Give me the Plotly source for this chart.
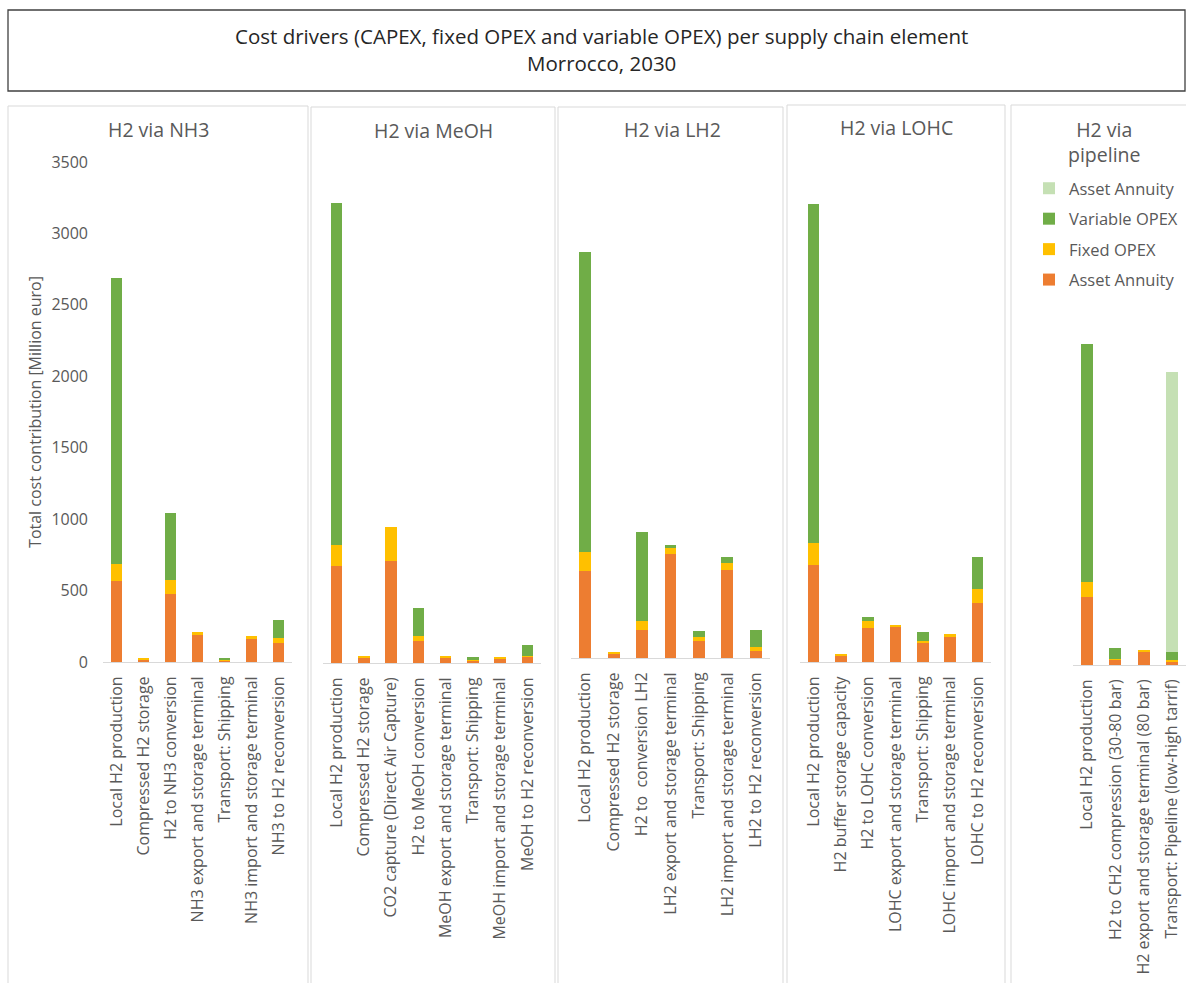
import plotly.graph_objects as go

W, H = 1186, 983

# ---------------- data ----------------
panel_titles = ["H2 via NH3", "H2 via MeOH", "H2 via LH2", "H2 via LOHC", "H2 via<br>pipeline"]
series_names = ["Asset Annuity", "Fixed OPEX", "Variable OPEX", "Asset Annuity"]
series_colors = ["#ED7D31", "#FFC000", "#70AD47", "#C5E0B4"]
legend_ranks = [4, 3, 2, 1]

nh3_cats = ["Local H2 production", "Compressed H2 storage", "H2 to NH3 conversion",
            "NH3 export and storage terminal", "Transport: Shipping",
            "NH3 import and storage terminal", "NH3 to H2 reconversion"]
nh3_asset = [565, 17, 479, 189, 12, 161, 133]
nh3_fixed = [124, 9, 95, 21, 7, 19, 38]
nh3_var = [2001, 0, 472, 0, 10, 0, 126]
nh3_asset2 = [0, 0, 0, 0, 0, 0, 0]

meoh_cats = ["Local H2 production", "Compressed H2 storage", "CO2 capture (Direct Air Capture)",
             "H2 to MeOH conversion", "MeOH export and storage terminal", "Transport: Shipping",
             "MeOH import and storage terminal", "MeOH to H2 reconversion"]
meoh_asset = [681, 40, 715, 154, 40, 20, 30, 47]
meoh_fixed = [146, 9, 240, 37, 9, 3, 9, 3]
meoh_var = [2390, 0, 0, 194, 0, 16, 0, 76]
meoh_asset2 = [0, 0, 0, 0, 0, 0, 0, 0]

lh2_cats = ["Local H2 production", "Compressed H2 storage", "H2 to  conversion LH2",
            "LH2 export and storage terminal", "Transport: Shipping",
            "LH2 import and storage terminal", "LH2 to H2 reconversion"]
lh2_asset = [607, 33, 194, 731, 119, 618, 51]
lh2_fixed = [134, 9, 67, 44, 28, 47, 28]
lh2_var = [2103, 0, 620, 13, 39, 45, 117]
lh2_asset2 = [0, 0, 0, 0, 0, 0, 0]

lohc_cats = ["Local H2 production", "H2 buffer storage capacity", "H2 to LOHC conversion",
             "LOHC export and storage terminal", "Transport: Shipping",
             "LOHC import and storage terminal", "LOHC to H2 reconversion"]
lohc_asset = [681, 47, 240, 250, 138, 175, 413]
lohc_fixed = [152, 9, 47, 9, 9, 19, 96]
lohc_var = [2374, 0, 30, 0, 65, 0, 228]
lohc_asset2 = [0, 0, 0, 0, 0, 0, 0]

pipe_cats = ["Local H2 production", "H2 to CH2 compression (30-80 bar)",
             "H2 export and storage terminal (80 bar)", "Transport: Pipeline (low-high tarrif)"]
pipe_asset = [473, 35, 93, 23]
pipe_fixed = [105, 9, 9, 12]
pipe_var = [1672, 75, 0, 56]
pipe_asset2 = [0, 0, 0, 1960]

y_ticks = [0, 500, 1000, 1500, 2000, 2500, 3000, 3500]
y_title = "Total cost contribution [Million euro]"
main_title = "Cost drivers (CAPEX, fixed OPEX and variable OPEX) per supply chain element<br>Morrocco, 2030"

panels = [
    (nh3_cats, [nh3_asset, nh3_fixed, nh3_var, nh3_asset2]),
    (meoh_cats, [meoh_asset, meoh_fixed, meoh_var, meoh_asset2]),
    (lh2_cats, [lh2_asset, lh2_fixed, lh2_var, lh2_asset2]),
    (lohc_cats, [lohc_asset, lohc_fixed, lohc_var, lohc_asset2]),
    (pipe_cats, [pipe_asset, pipe_fixed, pipe_var, pipe_asset2]),
]

# ---------------- geometry (pixels) ----------------
plot_px = [
    (103, 292, 662, 162),
    (323, 541, 663, 163),
    (571, 770, 658, 158),
    (800, 991, 662, 162),
    (1073, 1186, 665, 165),
]
frame_px = [(8, 308, 106), (311, 555, 107), (558, 783, 107), (787, 1005, 105), (1011, 1195, 105)]
title_px = [(158, 129), (433, 131), (672, 130), (896, 127), (1104, 142)]

GRAY = "#595959"
FONT = "Open Sans"


def px(x):
    return x / W


def py(y):
    return 1 - y / H


fig = go.Figure()

for i, (cats, vals) in enumerate(panels):
    ax = "" if i == 0 else str(i + 1)
    for s, (name, col, v) in enumerate(zip(series_names, series_colors, vals)):
        if s == 3 and not any(v):
            continue
        fig.add_trace(go.Bar(
            x=cats, y=v, name=name,
            marker=dict(color=col, line=dict(width=0)),
            width=0.42,
            xaxis="x" + ax, yaxis="y" + ax,
            legendgroup="g%d" % s, legendrank=legend_ranks[s],
            showlegend=(i == 4),
            hovertemplate="%{x}<br>" + name + ": %{y}<extra></extra>",
        ))

layout = dict(
    template="none",
    width=W, height=H, autosize=False,
    margin=dict(l=0, r=0, t=0, b=0, pad=0),
    paper_bgcolor="white", plot_bgcolor="rgba(0,0,0,0)",
    barmode="stack",
    font=dict(family=FONT, color=GRAY, size=15),
    legend=dict(
        x=px(1029), y=py(171), xanchor="left", yanchor="top",
        traceorder="grouped", tracegroupgap=6,
        itemwidth=30, font=dict(size=16.5, color=GRAY, family=FONT),
        bgcolor="rgba(0,0,0,0)", borderwidth=0,
    ),
    shapes=[], annotations=[],
)

for i, ((x0, x1, yb, yt), (cats, _)) in enumerate(zip(plot_px, panels)):
    ax = "" if i == 0 else str(i + 1)
    layout["xaxis" + ax] = dict(
        domain=[px(x0), min(px(x1), 1.0)], anchor="y" + ax,
        type="category", range=[-0.5, len(cats) - 0.5],
        tickangle=-90, tickfont=dict(size=16, color=GRAY, family=FONT),
        showline=True, linecolor="#D9D9D9", linewidth=1,
        showgrid=False, zeroline=False, ticks="", ticklabelstandoff=7,
        automargin=False, fixedrange=True,
    )
    ydict = dict(
        domain=[py(yb), py(yt)], anchor="x" + ax, range=[0, 3500],
        showgrid=False, zeroline=False, showline=False, fixedrange=True,
        automargin=False,
    )
    if i == 0:
        ydict.update(
            tickvals=y_ticks, ticks="", ticklabelstandoff=14,
            tickfont=dict(size=16, color=GRAY, family=FONT),
            title=dict(text=y_title, font=dict(size=16, color=GRAY, family=FONT), standoff=5),
        )
    else:
        ydict.update(visible=False)
    layout["yaxis" + ax] = ydict

for (x0, x1, yt) in frame_px:
    layout["shapes"].append(dict(
        type="rect", xref="paper", yref="paper",
        x0=px(x0), x1=px(x1), y0=py(yt), y1=py(H + 20),
        line=dict(color="#D9D9D9", width=1), fillcolor="rgba(0,0,0,0)", layer="below",
    ))
layout["shapes"].append(dict(
    type="rect", xref="paper", yref="paper",
    x0=px(8), x1=px(1185), y0=py(91), y1=py(10),
    line=dict(color="#404040", width=1.3), fillcolor="rgba(0,0,0,0)",
))
layout["annotations"].append(dict(
    xref="paper", yref="paper", x=px(601), y=py(50), xanchor="center", yanchor="middle",
    text=main_title, showarrow=False, align="center",
    font=dict(size=20.5, color="#262626", family=FONT),
))
for t, (tx, ty) in zip(panel_titles, title_px):
    layout["annotations"].append(dict(
        xref="paper", yref="paper", x=px(tx), y=py(ty), xanchor="center", yanchor="middle",
        text=t, showarrow=False, align="center",
        font=dict(size=19.5, color=GRAY, family=FONT),
    ))

fig.update_layout(**layout)
fig.write_html("out.html")
